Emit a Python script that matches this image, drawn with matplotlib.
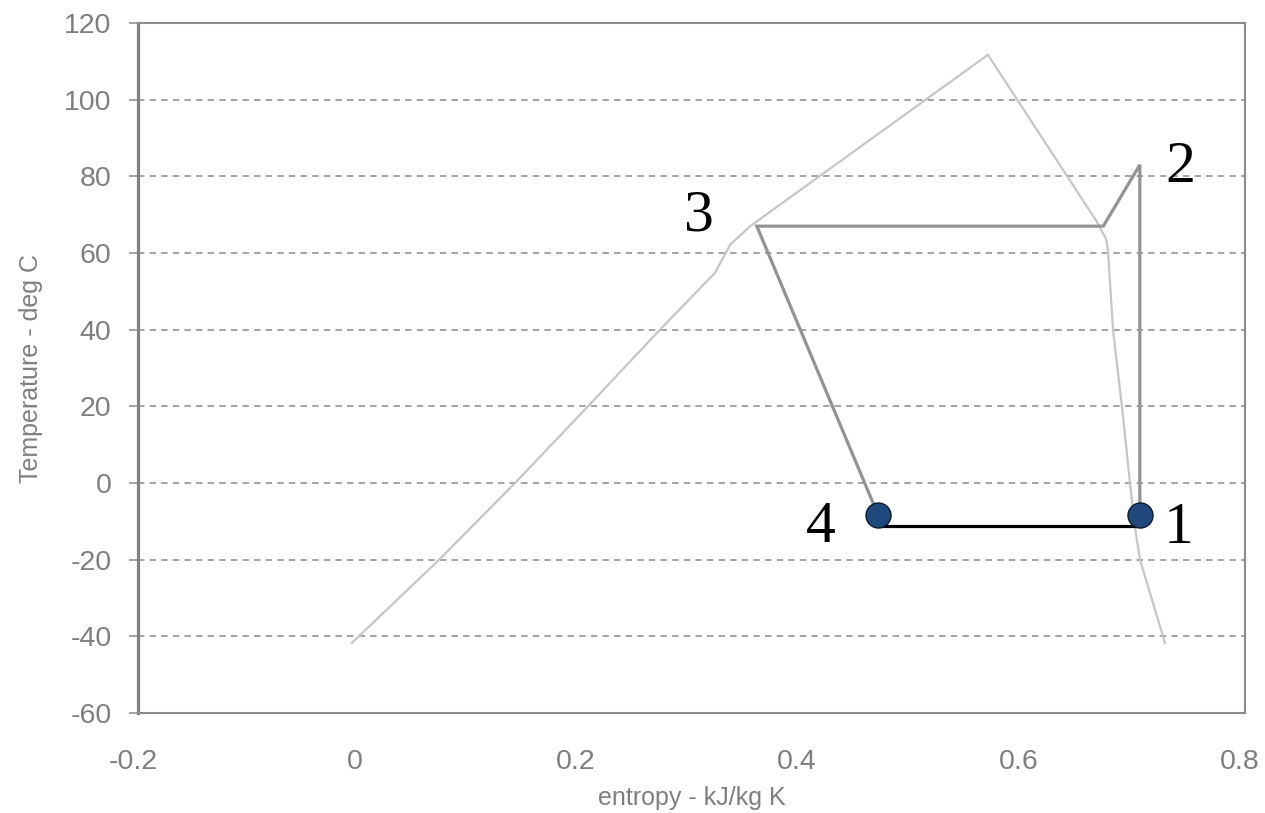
import matplotlib
matplotlib.use("Agg")
import matplotlib.pyplot as plt
import matplotlib.transforms as mtransforms

# Saturation dome of the refrigerant (entropy kJ/kg K, temperature deg C)
dome_s = [-0.0067, 0.0710, 0.1406, 0.2065, 0.2715, 0.3212, 0.3348, 0.3530,
          0.5678, 0.6663, 0.6744, 0.6762, 0.6808, 0.6889, 0.6961, 0.7006,
          0.7052, 0.7277]
dome_T = [-41.7, -20.3, 0.0, 20.0, 40.0, 54.8, 62.1, 67.0,
          111.7, 68.1, 63.7, 60.8, 39.9, 19.8, 0.0, -11.5,
          -20.1, -41.7]

# Vapour-compression cycle path: 4 -> 3 -> saturated vapour -> 2 -> 1
cycle_s = [0.4685, 0.359, 0.672, 0.705, 0.705]
cycle_T = [-8.3, 67.0, 67.0, 83.0, -8.3]

# Evaporator line between states 4 and 1
evap_s = [0.4685, 0.705]
evap_T = [-11.2, -11.2]

# State points marked with dots
state_s = [0.4685, 0.705]
state_T = [-8.3, -8.3]

# State labels
labels = ["1", "2", "3", "4"]
label_s = [0.705, 0.705, 0.359, 0.4685]
label_T = [-8.3, 83.0, 67.0, -8.3]

xticks = [-0.2, 0, 0.2, 0.4, 0.6, 0.8]
xtick_labels = ["-0.2", "0", "0.2", "0.4", "0.6", "0.8"]
yticks = [-60, -40, -20, 0, 20, 40, 60, 80, 100, 120]

plt.rcParams["font.family"] = ["Liberation Sans", "DejaVu Sans"]
plt.rcParams["axes.unicode_minus"] = False

fig = plt.figure(figsize=(12.65, 8.13), dpi=100)
ax = fig.add_axes([138 / 1265, 1 - 713 / 813, (1245 - 138) / 1265, (713 - 23) / 813])

ax.set_xlim(-0.2, 0.8)
ax.set_ylim(-60, 120)

grid_c = "#8a8a8a"
for t in yticks[1:-1]:
    ax.axhline(t, color=grid_c, lw=1.1, ls=(0, (4.2, 3.4)), zorder=1)

ax.plot(dome_s, dome_T, color="#c6c6c6", lw=1.6, zorder=2, solid_joinstyle="miter")
ax.plot(cycle_s, cycle_T, color="#939393", lw=2.3, zorder=3, solid_joinstyle="miter")
ax.plot(evap_s, evap_T, color="black", lw=2.3, zorder=4)
ax.plot(state_s, state_T, ls="none", marker="o", ms=18, mfc="#1f497d",
        mec="#0d1a2e", mew=1.0, zorder=5)

offsets = {"1": (28, -20), "2": (29.5, -12.2), "3": (-42, -2.9), "4": (-41, -19.4)}
for lab, s, T in zip(labels, label_s, label_T):
    ax.annotate(lab, (s, T), xytext=offsets[lab], textcoords="offset points",
                ha="center", va="baseline", fontsize=43,
                family=["Liberation Serif", "DejaVu Serif"], color="black", zorder=6)

ax.set_xticks(xticks)
ax.set_xticklabels(xtick_labels)
ax.set_yticks(yticks)

tick_c = "#7f7f7f"
ax.tick_params(axis="x", length=0, pad=26, labelsize=20.5, labelcolor=tick_c)
ax.tick_params(axis="y", length=6.5, width=1.1, color=grid_c, direction="out",
               pad=12.5, labelsize=20.5, labelcolor=tick_c)

# x tick labels sit a few pixels left of their tick positions
shift = mtransforms.ScaledTranslation(-5 / 100, 0, fig.dpi_scale_trans)
for lbl in ax.get_xticklabels():
    lbl.set_transform(lbl.get_transform() + shift)

for side in ["top", "right", "bottom"]:
    ax.spines[side].set_color("#8c8c8c")
    ax.spines[side].set_linewidth(1.5)
ax.spines["left"].set_color("#808080")
ax.spines["left"].set_linewidth(2.3)

ax.set_xlabel("entropy - kJ/kg K", fontsize=18, color=tick_c, labelpad=8)
ax.set_ylabel("Temperature - deg C", fontsize=18, color=tick_c, labelpad=15)

fig.savefig("out.png", dpi=100, facecolor="white")
